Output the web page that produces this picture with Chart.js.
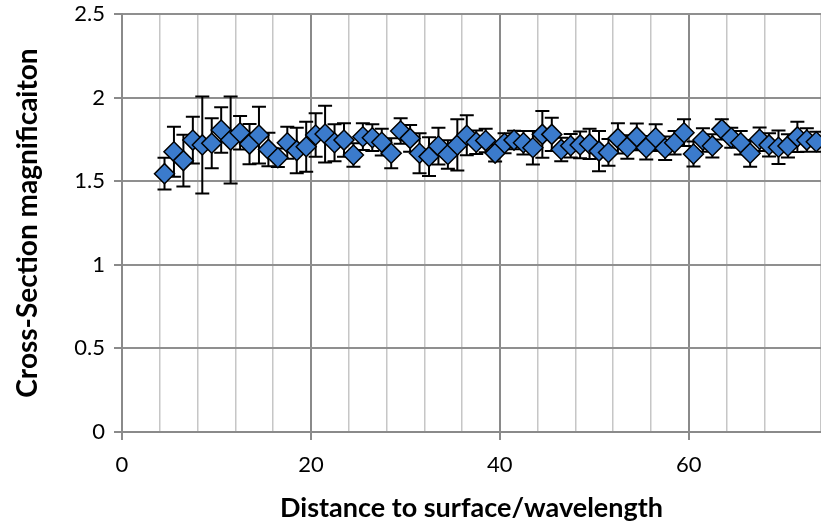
<!DOCTYPE html>
<html>
<head>
<meta charset="utf-8">
<script src="https://cdn.jsdelivr.net/npm/chart.js@4.4.1/dist/chart.umd.min.js"></script>
<style>
  html, body { margin: 0; padding: 0; background: #ffffff; }
  #wrap { width: 821px; height: 527px; }
</style>
</head>
<body>
<div id="wrap"><canvas id="c" width="821" height="527"></canvas></div>
<script>
// Distance to surface / wavelength
const xValues = [4.5,5.5,6.5,7.5,8.5,9.5,10.5,11.5,12.5,13.5,14.5,15.5,16.5,17.5,18.5,19.5,20.5,21.5,22.5,23.5,
  24.5,25.5,26.5,27.5,28.5,29.5,30.5,31.5,32.5,33.5,34.5,35.5,36.5,37.5,38.5,39.5,40.5,41.5,42.5,43.5,
  44.5,45.5,46.5,47.5,48.5,49.5,50.5,51.5,52.5,53.5,54.5,55.5,56.5,57.5,58.5,59.5,60.5,61.5,62.5,63.5,
  64.5,65.5,66.5,67.5,68.5,69.5,70.5,71.5,72.5,73.5];
// Cross-section magnification
const yValues = [1.545,1.676,1.623,1.746,1.717,1.727,1.806,1.746,1.790,1.722,1.776,1.690,1.640,1.730,1.683,1.706,1.776,1.782,1.730,1.746,
  1.657,1.766,1.760,1.733,1.667,1.800,1.756,1.667,1.647,1.710,1.660,1.717,1.775,1.733,1.743,1.668,1.727,1.746,1.730,1.700,
  1.780,1.780,1.690,1.712,1.717,1.723,1.680,1.672,1.756,1.705,1.765,1.700,1.760,1.697,1.730,1.790,1.663,1.746,1.711,1.810,
  1.760,1.730,1.667,1.751,1.717,1.703,1.711,1.765,1.746,1.736];
// Error bar half-lengths
const yErrors = [0.095,0.150,0.155,0.140,0.290,0.150,0.136,0.260,0.100,0.120,0.170,0.100,0.055,0.095,0.136,0.150,0.130,0.170,0.110,0.100,
  0.070,0.080,0.080,0.080,0.090,0.076,0.080,0.120,0.116,0.110,0.085,0.153,0.120,0.070,0.070,0.050,0.060,0.055,0.070,0.100,
  0.140,0.100,0.070,0.070,0.080,0.090,0.120,0.080,0.090,0.070,0.080,0.070,0.080,0.070,0.070,0.080,0.075,0.070,0.070,0.060,
  0.060,0.070,0.080,0.070,0.070,0.100,0.070,0.090,0.070,0.060];
const xTitle = 'Distance to surface/wavelength';
const yTitle = 'Cross-Section magnificaiton';

const points = xValues.map((x, i) => ({ x: x, y: yValues[i] }));

const errorBarPlugin = {
  id: 'errorBars',
  beforeDatasetsDraw(chart) {
    const { ctx, scales } = chart;
    const xs = scales.x, ys = scales.y;
    ctx.save();
    ctx.strokeStyle = '#000000';
    ctx.lineWidth = 2;
    ctx.beginPath();
    xValues.forEach((xv, i) => {
      const px = xs.getPixelForValue(xv);
      const top = ys.getPixelForValue(yValues[i] + yErrors[i]);
      const bot = ys.getPixelForValue(yValues[i] - yErrors[i]);
      ctx.moveTo(px, top); ctx.lineTo(px, bot);
      ctx.moveTo(px - 7, top); ctx.lineTo(px + 7, top);
      ctx.moveTo(px - 7, bot); ctx.lineTo(px + 7, bot);
    });
    ctx.stroke();
    ctx.restore();
  }
};

new Chart(document.getElementById('c'), {
  type: 'scatter',
  data: {
    datasets: [{
      data: points,
      pointStyle: 'rectRot',
      pointRadius: 10,
      pointHoverRadius: 10,
      backgroundColor: '#3b7bcc',
      borderColor: '#000000',
      borderWidth: 1.5,
      clip: false
    }]
  },
  options: {
    responsive: false,
    animation: false,
    devicePixelRatio: 1,
    layout: { autoPadding: false, padding: { top: 14, right: 0, left: 0, bottom: 0 } },
    plugins: { legend: { display: false }, tooltip: { enabled: false } },
    scales: {
      x: {
        type: 'linear',
        min: 0,
        max: 74,
        afterFit(scale) { scale.height = 95; scale.paddingLeft = 0; scale.paddingRight = 0; },
        border: { display: true, color: '#8a8a8a', width: 2 },
        grid: {
          color: (c) => (c.tick && c.tick.value % 20 === 0) ? '#8a8a8a' : '#c6c6c6',
          lineWidth: (c) => (c.tick && c.tick.value % 20 === 0) ? 2 : 1.5,
          drawTicks: true,
          tickLength: 8,
          tickColor: (c) => (c.tick && c.tick.value % 20 === 0) ? '#8a8a8a' : 'rgba(0,0,0,0)',
          tickWidth: 2
        },
        ticks: {
          stepSize: 4,
          autoSkip: false,
          maxRotation: 0,
          padding: 12,
          color: '#000000',
          font: { family: 'Lato', size: 22 },
          callback: (v) => (v % 20 === 0 ? String(v) : '')
        },
        title: {
          display: true,
          text: xTitle,
          color: '#000000',
          font: { family: 'Lato', size: 27, weight: 'bold' },
          padding: { top: 0, bottom: 3 }
        }
      },
      y: {
        min: 0,
        max: 2.5,
        afterFit(scale) { scale.width = 122; scale.paddingTop = 0; scale.paddingBottom = 0; },
        border: { display: true, color: '#8a8a8a', width: 2 },
        grid: {
          color: '#8f8f8f',
          lineWidth: 2,
          drawTicks: true,
          tickLength: 8,
          tickColor: '#8a8a8a',
          tickWidth: 2
        },
        ticks: {
          stepSize: 0.5,
          padding: 9,
          color: '#000000',
          font: { family: 'Lato', size: 22 },
          callback: (v) => String(Math.round(v * 10) / 10)
        },
        title: {
          display: true,
          text: yTitle,
          color: '#000000',
          font: { family: 'Lato', size: 28, weight: 'bold' },
          padding: { top: 11, bottom: 0 }
        }
      }
    }
  },
  plugins: [errorBarPlugin]
});
</script>
</body>
</html>
